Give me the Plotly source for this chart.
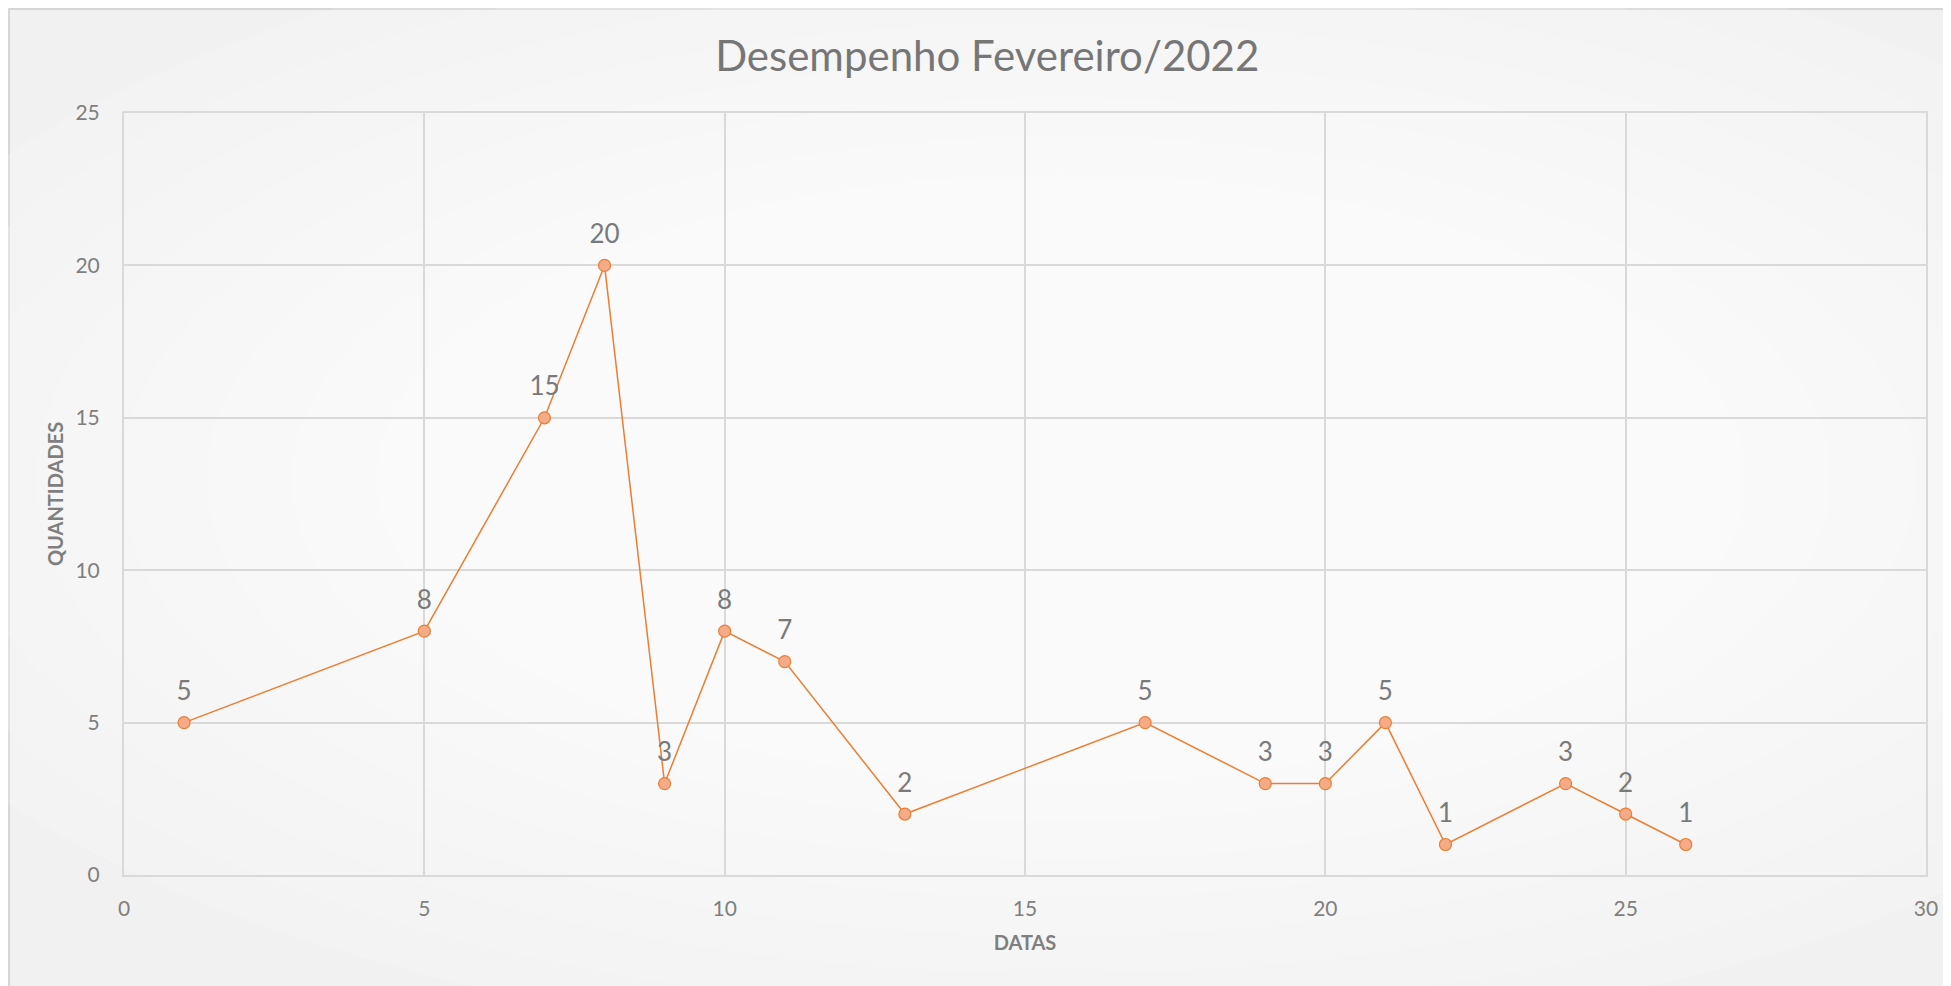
import plotly.graph_objects as go

datas = [1, 5, 7, 8, 9, 10, 11, 13, 17, 19, 20, 21, 22, 24, 25, 26]
quantidades = [5, 8, 15, 20, 3, 8, 7, 2, 5, 3, 3, 5, 1, 3, 2, 1]
x_ticks = [0, 5, 10, 15, 20, 25, 30]
y_ticks = [0, 5, 10, 15, 20, 25]

FONT = "Lato, Open Sans, sans-serif"
GRID = "#d9d9d9"
TXT = "#7f7f7f"

fig = go.Figure()
fig.add_trace(go.Scatter(
    x=datas, y=quantidades,
    mode="lines+markers",
    line=dict(color="#ed7d31", width=1.5),
    marker=dict(size=12, color="#f5ab88", line=dict(color="#ed7d31", width=1.2)),
    cliponaxis=False,
    showlegend=False,
    hoverinfo="x+y",
))
# data labels (invisible larger marker pushes the text a bit higher above the points)
fig.add_trace(go.Scatter(
    x=datas, y=quantidades,
    mode="markers+text",
    text=[str(v) for v in quantidades],
    textposition="top center",
    textfont=dict(family=FONT, size=26, color="#7a7a7a"),
    marker=dict(size=24, color="rgba(0,0,0,0)"),
    cliponaxis=False,
    showlegend=False,
    hoverinfo="skip",
))

shapes = []
shapes.append(dict(type="rect", xref="paper", yref="paper", x0=-0.0638, x1=1.05, y0=-0.3, y1=1.1365,
                   fillcolor="#f1f1f1", line=dict(color="#d6d6d6", width=2), layer="below"))
n = 14
for i in range(n):
    f = 1 - i / n
    rx = 0.66 * f + 0.05
    ry = 0.70 * f + 0.05
    shapes.append(dict(type="circle", xref="paper", yref="paper",
                       x0=0.52 - rx, x1=0.52 + rx, y0=0.52 - ry, y1=0.52 + ry,
                       fillcolor="rgba(255,255,255,0.15)", line=dict(width=0), layer="below"))

fig.update_layout(
    width=1943, height=978,
    margin=dict(l=116, r=25, t=105, b=111),
    paper_bgcolor="white",
    plot_bgcolor="rgba(0,0,0,0)",
    shapes=shapes,
    title=dict(text="Desempenho Fevereiro/2022", x=0.504, xanchor="center", y=0.951, yanchor="middle",
               font=dict(family=FONT, size=42, color="#767676")),
    font=dict(family=FONT, color=TXT),
    xaxis=dict(
        range=[0, 30], tickvals=x_ticks, showgrid=True, gridcolor=GRID, gridwidth=1.5,
        zeroline=False, showline=True, linecolor=GRID, linewidth=2, mirror=True,
        ticks="outside", ticklen=14, tickcolor="rgba(0,0,0,0)",
        tickfont=dict(family=FONT, size=21, color=TXT),
        title=dict(text="<b>DATAS</b>", font=dict(family=FONT, size=20, color=TXT), standoff=17),
    ),
    yaxis=dict(
        range=[0, 25], tickvals=y_ticks, showgrid=True, gridcolor=GRID, gridwidth=1.5,
        zeroline=False, showline=True, linecolor=GRID, linewidth=2, mirror=True,
        ticks="outside", ticklen=18, tickcolor="rgba(0,0,0,0)",
        tickfont=dict(family=FONT, size=21, color=TXT),
        title=dict(text="<b>QUANTIDADES</b>", font=dict(family=FONT, size=20, color=TXT), standoff=6),
    ),
)

fig.write_html("out.html")
